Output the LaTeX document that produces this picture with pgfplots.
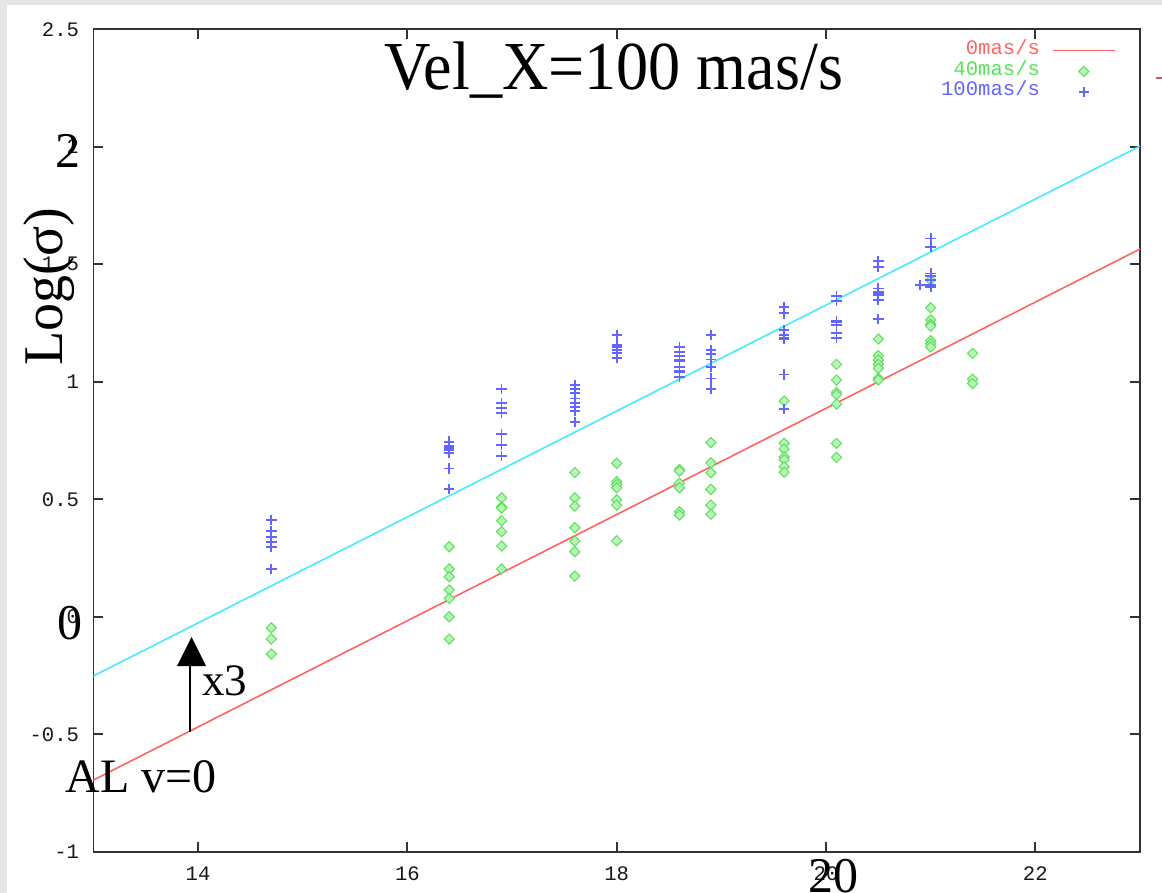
\documentclass[border=0pt]{standalone}
\usepackage{pgfplots}
\pgfplotsset{compat=1.18}
\usepackage{pgfplotstable}
\usepackage{fontspec}
\setmainfont{Liberation Serif}
\newfontfamily\gpfont{Liberation Mono}
\definecolor{gpred}{RGB}{255,100,100}
\definecolor{gpgreen}{RGB}{90,225,90}
\definecolor{gpgreenfill}{RGB}{185,245,185}
\definecolor{gpblue}{RGB}{100,100,255}
\definecolor{gpcyan}{RGB}{70,235,255}
\definecolor{bggray}{RGB}{229,229,229}
\definecolor{pinkdash}{RGB}{200,90,110}

\pgfplotsset{
  gplineleg/.style={legend image code/.code={\draw[##1] (0pt,0pt) -- (31pt,0pt);}},
  gpmarkleg/.style={legend image code/.code={\draw[mark repeat=2,mark phase=2,##1] plot coordinates {(0pt,0pt) (15.5pt,0pt) (31pt,0pt)};}},
}

\pgfplotstableread{
x y
14.7 -0.047
14.7 -0.095
14.7 -0.159
16.4 0.298
16.4 0.203
16.4 0.170
16.4 0.114
16.4 0.078
16.4 0.000
16.4 -0.095
16.9 0.506
16.9 0.468
16.9 0.462
16.9 0.409
16.9 0.362
16.9 0.301
16.9 0.203
17.6 0.614
17.6 0.506
17.6 0.471
17.6 0.379
17.6 0.322
17.6 0.277
17.6 0.173
18.0 0.653
18.0 0.575
18.0 0.563
18.0 0.549
18.0 0.497
18.0 0.475
18.0 0.323
18.6 0.627
18.6 0.620
18.6 0.568
18.6 0.549
18.6 0.447
18.6 0.433
18.9 0.741
18.9 0.655
18.9 0.613
18.9 0.542
18.9 0.475
18.9 0.436
19.6 0.918
19.6 0.738
19.6 0.714
19.6 0.680
19.6 0.668
19.6 0.638
19.6 0.615
20.1 1.074
20.1 1.007
20.1 0.955
20.1 0.945
20.1 0.905
20.1 0.738
20.1 0.678
20.5 1.182
20.5 1.111
20.5 1.092
20.5 1.074
20.5 1.057
20.5 1.015
20.5 1.008
21.0 1.433
21.0 1.315
21.0 1.263
21.0 1.245
21.0 1.237
21.0 1.175
21.0 1.162
21.0 1.148
21.4 1.121
21.4 1.011
21.4 0.993
}\greendata

\pgfplotstableread{
x y
14.7 0.411
14.7 0.365
14.7 0.340
14.7 0.319
14.7 0.298
14.7 0.203
16.4 0.745
16.4 0.728
16.4 0.718
16.4 0.710
16.4 0.698
16.4 0.631
16.4 0.543
16.9 0.969
16.9 0.908
16.9 0.887
16.9 0.866
16.9 0.776
16.9 0.731
16.9 0.684
17.6 0.986
17.6 0.968
17.6 0.951
17.6 0.929
17.6 0.911
17.6 0.894
17.6 0.875
17.6 0.830
18.0 1.199
18.0 1.156
18.0 1.152
18.0 1.146
18.0 1.135
18.0 1.121
18.0 1.100
18.6 1.149
18.6 1.128
18.6 1.109
18.6 1.092
18.6 1.086
18.6 1.064
18.6 1.045
18.6 1.040
18.6 1.021
18.9 1.199
18.9 1.135
18.9 1.117
18.9 1.095
18.9 1.064
18.9 1.014
18.9 0.968
19.6 1.319
19.6 1.291
19.6 1.220
19.6 1.199
19.6 1.187
19.6 1.182
19.6 1.031
19.6 0.884
20.1 1.365
20.1 1.343
20.1 1.258
20.1 1.252
20.1 1.241
20.1 1.206
20.1 1.185
20.5 1.514
20.5 1.489
20.5 1.397
20.5 1.383
20.5 1.375
20.5 1.370
20.5 1.348
20.5 1.267
20.9 1.411
21.0 1.610
21.0 1.574
21.0 1.461
21.0 1.450
21.0 1.433
21.0 1.411
21.0 1.404
}\bluedata

\begin{document}
\begin{tikzpicture}
\fill[bggray] (0,0) rectangle (581pt,-446.5pt);
\fill[white] (3.5pt,-2.5pt) rectangle (581pt,-446.5pt);
\useasboundingbox (0,0) rectangle (581pt,-446.5pt);
\begin{axis}[
  at={(46.7pt,-425.85pt)}, anchor=south west,
  scale only axis, width=523.3pt, height=411.2pt,
  xmin=13, xmax=23, ymin=-1, ymax=2.5,
  xtick={14,16,18,20,22}, xticklabels={14,16,18,20,22},
  ytick={-1,-0.5,0,0.5,1,1.5,2,2.5},
  yticklabels={-1,-0.5,0,0.5,1,1.5,2,2.5},
  tick align=inside, major tick length=5pt,
  axis line style={line width=0.9pt, black!80},
  tick style={line width=0.9pt, black!80},
  ticklabel style={font=\gpfont\fontsize{10.3}{11}\selectfont, text=black!90, inner sep=0pt},
  yticklabel style={xshift=-7pt},
  xticklabel style={yshift=-7.5pt},
  legend plot pos=right, legend cell align=right,
  legend style={at={(0.9828,0.992)}, anchor=north east, draw=none, fill=none,
    font=\gpfont\fontsize{10.3}{11}\selectfont, row sep=0pt,
    /tikz/column sep=6pt,
    nodes={inner sep=0pt, text height=7pt, text depth=3.4pt}},
]
\addplot[gpcyan, line width=0.8pt, forget plot] coordinates {(13,-0.252) (23,2.003)};
\addplot[gpred, line width=0.8pt, gplineleg]
  coordinates {(13,-0.695) (23,1.565)};
\addlegendentry{\textcolor{gpred}{0mas/s}}
\addplot[only marks, mark=square*, mark size=1.8pt,
  mark options={rotate=45, draw=gpgreen, fill=gpgreenfill, line width=0.5pt},
  gpmarkleg]
  table[x=x,y=y] {\greendata};
\addlegendentry{\textcolor{gpgreen}{40mas/s}}
\addplot[only marks, mark=+, mark size=2.6pt, draw=gpblue, line width=0.9pt,
  gpmarkleg]
  table[x=x,y=y] {\bluedata};
\addlegendentry{\textcolor{gpblue}{100mas/s}}
\end{axis}
\begin{scope}[x=0.5pt,y=-0.5pt]
  \node[anchor=base west, inner sep=0pt, yscale=1.07, font=\fontsize{32.1}{36}\selectfont] at (384,90) {Vel\_X=100 mas/s};
  \node[anchor=base west, inner sep=0pt, font=\fontsize{25}{30}\selectfont] at (55,168) {2};
  \node[anchor=base west, inner sep=0pt, font=\fontsize{25}{30}\selectfont] at (57,639) {0};
  \node[rotate=90, anchor=base, inner sep=0pt, font=\fontsize{28}{32}\selectfont] at (62,287) {Log(σ)};
  \node[anchor=base west, inner sep=0pt, font=\fontsize{22.5}{26}\selectfont] at (202,695) {x3};
  \node[anchor=base west, inner sep=0pt, font=\fontsize{24}{28}\selectfont] at (65,792) {AL v=0};
  \node[anchor=base west, inner sep=0pt, font=\fontsize{25}{30}\selectfont] at (808,892) {20};
  \draw[line width=0.8pt] (190,732) -- (190,664);
  \fill (177,666) -- (206,666) -- (191.5,637) -- cycle;
  \draw[pinkdash, line width=0.8pt] (1156,78) -- (1162,78);
\end{scope}
\end{tikzpicture}
\end{document}
